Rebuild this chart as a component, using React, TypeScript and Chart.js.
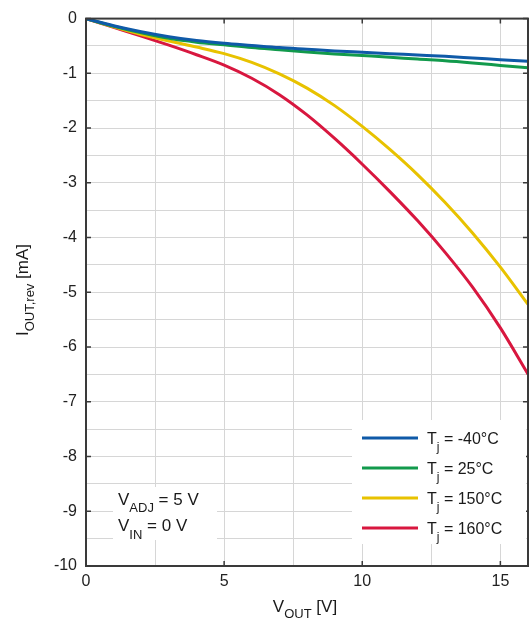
import React, { useEffect, useRef } from "react";
import { Chart, registerables } from "chart.js";

Chart.register(...registerables);

const xValues = [0, 1, 2, 3, 4, 5, 6, 7, 8, 9, 10, 11, 12, 13, 14, 15, 16];
const seriesM40 = [0, -0.13, -0.24, -0.33, -0.4, -0.45, -0.49, -0.53, -0.56, -0.59, -0.615, -0.64, -0.665, -0.69, -0.72, -0.75, -0.78];
const series25 = [0, -0.14, -0.26, -0.36, -0.43, -0.48, -0.53, -0.57, -0.61, -0.645, -0.675, -0.705, -0.74, -0.77, -0.81, -0.855, -0.9];
const series150 = [0, -0.15, -0.29, -0.41, -0.52, -0.64, -0.8, -1.01, -1.27, -1.59, -1.97, -2.39, -2.85, -3.36, -3.92, -4.54, -5.22];
const series160 = [0, -0.16, -0.32, -0.485, -0.66, -0.85, -1.09, -1.39, -1.76, -2.19, -2.66, -3.16, -3.69, -4.27, -4.91, -5.65, -6.495];

const seriesLabels = ["-40°C", "25°C", "150°C", "160°C"];
const seriesColors = ["#0f5aa8", "#129a4c", "#e8c200", "#d8173f"];

const xTicks = [0, 2.5, 5, 7.5, 10, 12.5, 15];
const yTicks = [0, -0.5, -1, -1.5, -2, -2.5, -3, -3.5, -4, -4.5, -5, -5.5, -6, -6.5, -7, -7.5, -8, -8.5, -9, -9.5, -10];

const FONT = "'Liberation Sans', Arial, Helvetica, sans-serif";

type Part = { t: string; sub?: boolean };

function richWidth(ctx: CanvasRenderingContext2D, parts: Part[], size: number, subSize: number) {
  let w = 0;
  for (const p of parts) {
    ctx.font = `${p.sub ? subSize : size}px ${FONT}`;
    w += ctx.measureText(p.t).width;
  }
  return w;
}

function drawRich(ctx: CanvasRenderingContext2D, parts: Part[], x: number, y: number, size: number, subSize: number, subDy: number) {
  let cx = x;
  ctx.textBaseline = "alphabetic";
  ctx.textAlign = "left";
  for (const p of parts) {
    ctx.font = `${p.sub ? subSize : size}px ${FONT}`;
    ctx.fillText(p.t, cx, p.sub ? y + subDy : y);
    cx += ctx.measureText(p.t).width;
  }
}

const decorPlugin = {
  id: "decor",
  afterDatasetsDraw(chart: any) {
    const ctx: CanvasRenderingContext2D = chart.ctx;
    const { left, right, top, bottom } = chart.chartArea;
    const xs = chart.scales.x;
    const ys = chart.scales.y;
    ctx.save();
    // box
    ctx.strokeStyle = "#3a3a3a";
    ctx.lineWidth = 2;
    ctx.strokeRect(left, top, right - left, bottom - top);
    // tick marks
    ctx.lineWidth = 1.5;
    for (let v = 0; v >= -10; v--) {
      const py = ys.getPixelForValue(v);
      ctx.beginPath();
      ctx.moveTo(left, py);
      ctx.lineTo(left + 5, py);
      ctx.moveTo(right, py);
      ctx.lineTo(right - 5, py);
      ctx.stroke();
    }
    for (const v of [5, 10, 15]) {
      const px = xs.getPixelForValue(v);
      ctx.beginPath();
      ctx.moveTo(px, bottom);
      ctx.lineTo(px, bottom - 5);
      ctx.moveTo(px, top);
      ctx.lineTo(px, top + 5);
      ctx.stroke();
    }

    // annotation box
    ctx.fillStyle = "#ffffff";
    ctx.fillRect(113, 487, 104, 53);
    ctx.fillStyle = "#1a1a1a";
    drawRich(ctx, [{ t: "V" }, { t: "ADJ", sub: true }, { t: " = 5 V" }], 118, 505, 17, 13, 7);
    drawRich(ctx, [{ t: "V" }, { t: "IN", sub: true }, { t: " = 0 V" }], 118, 531, 17, 13, 8);

    // legend
    ctx.fillStyle = "#ffffff";
    ctx.fillRect(352, 420, 174, 124);
    const ly = [438, 468, 498, 528];
    for (let i = 0; i < 4; i++) {
      ctx.strokeStyle = seriesColors[i];
      ctx.lineWidth = 3;
      ctx.beginPath();
      ctx.moveTo(362, ly[i]);
      ctx.lineTo(418, ly[i]);
      ctx.stroke();
      ctx.fillStyle = "#1a1a1a";
      drawRich(ctx, [{ t: "T" }, { t: "j", sub: true }, { t: " = " + seriesLabels[i] }], 427, ly[i] + 6, 16, 12, 7);
    }

    // axis titles
    ctx.fillStyle = "#1a1a1a";
    const xParts: Part[] = [{ t: "V" }, { t: "OUT", sub: true }, { t: " [V]" }];
    const xw = richWidth(ctx, xParts, 17, 13);
    drawRich(ctx, xParts, 305 - xw / 2, 612, 17, 13, 6);

    const yParts: Part[] = [{ t: "I" }, { t: "OUT,rev", sub: true }, { t: " [mA]" }];
    const yw = richWidth(ctx, yParts, 17, 13);
    ctx.translate(28, 290);
    ctx.rotate(-Math.PI / 2);
    drawRich(ctx, yParts, -yw / 2, 0, 17, 13, 6);
    ctx.restore();
  },
};

export default function App() {
  const ref = useRef<HTMLCanvasElement | null>(null);
  useEffect(() => {
    if (!ref.current) return;
    const all = [seriesM40, series25, series150, series160];
    const chart = new Chart(ref.current, {
      type: "line",
      data: {
        datasets: all.map((s, i) => ({
          label: "Tj = " + seriesLabels[i],
          data: xValues.map((x, k) => ({ x, y: s[k] })),
          borderColor: seriesColors[i],
          borderWidth: 3,
          pointRadius: 0,
          fill: false,
          cubicInterpolationMode: "monotone" as const,
        })),
      },
      options: {
        responsive: false,
        animation: false,
        layout: { padding: { top: 12, right: 1, left: 0, bottom: 0 } },
        plugins: { legend: { display: false }, tooltip: { enabled: false }, title: { display: false } },
        scales: {
          x: {
            type: "linear",
            min: 0,
            max: 16,
            afterBuildTicks: (s: any) => {
              s.ticks = xTicks.map((v) => ({ value: v }));
            },
            afterFit: (s: any) => {
              s.height = 57;
            },
            grid: { color: "#d6d6d6", lineWidth: 1, drawTicks: false },
            border: { display: false },
            ticks: {
              padding: 6,
              maxRotation: 0,
              autoSkip: false,
              color: "#222",
              font: { family: FONT, size: 16 },
              callback: (v: any) => (Number(v) % 5 === 0 ? String(v) : ""),
            },
          },
          y: {
            type: "linear",
            min: -10,
            max: 0,
            afterBuildTicks: (s: any) => {
              s.ticks = yTicks.map((v) => ({ value: v }));
            },
            afterFit: (s: any) => {
              s.width = 86;
            },
            grid: { color: "#d6d6d6", lineWidth: 1, drawTicks: false },
            border: { display: false },
            ticks: {
              padding: 9,
              autoSkip: false,
              color: "#222",
              font: { family: FONT, size: 16 },
              callback: (v: any) => (Number.isInteger(Number(v)) ? String(v) : ""),
            },
          },
        },
      },
      plugins: [decorPlugin],
    });
    return () => chart.destroy();
  }, []);
  return (
    <div style={{ position: "fixed", left: 0, top: 0, width: 529, height: 623, background: "#fff" }}>
      <canvas ref={ref} width={529} height={623} />
    </div>
  );
}
